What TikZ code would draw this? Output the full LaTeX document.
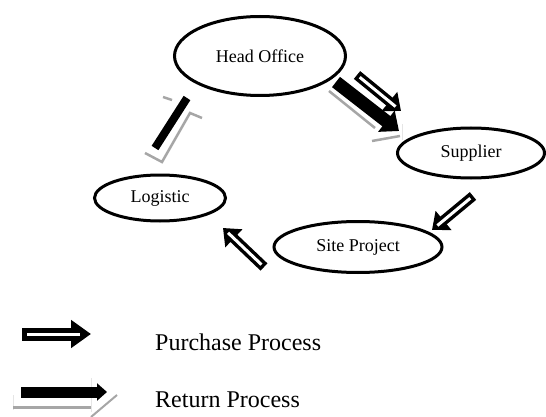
\documentclass[tikz,border=0pt]{standalone}
\usepackage{fontspec}
\setmainfont{Liberation Serif}
\usetikzlibrary{shapes.geometric,arrows.meta,calc}
\tikzset{
  place/.style={ellipse, draw, line width=3pt, inner sep=0pt, font=\fontsize{18}{20}\selectfont},
  purch/.style={line width=10pt, -{Triangle[length=15pt,width=24pt]}},
  purchcore/.style={line width=3pt, white, shorten <=3.5pt, shorten >=7pt},
  ret/.style={line width=13pt, -{Triangle[length=16pt,width=26pt]}},
  shade/.style={line width=2.5pt, black!35},
  faint/.style={line width=1pt, black!10},
  legend/.style={anchor=base west, inner sep=0pt, font=\fontsize{24}{27}\selectfont},
}
\begin{document}
\begin{tikzpicture}[x=1pt,y=-1pt]
\useasboundingbox (0,0) rectangle (546,417);
% places
\node[place, minimum width=171pt, minimum height=79pt] (ho) at (260,56) {Head Office};
\node[place, minimum width=147pt, minimum height=50pt] (sup) at (471,153) {Supplier};
\node[place, minimum width=168pt, minimum height=51pt] (site) at (358,247) {Site Project};
\node[place, minimum width=131pt, minimum height=46pt] (log) at (160,198) {Logistic};
% arrow end points
\coordinate (p1a) at (357,75);  \coordinate (p1b) at (401,111);
\coordinate (r1a) at (336,82);  \coordinate (r1b) at (399,131);
\coordinate (p2a) at (473,196); \coordinate (p2b) at (432,230);
\coordinate (p3a) at (264,267); \coordinate (p3b) at (223,228);
\coordinate (r2a) at (155,148); \coordinate (r2b) at (187,98);
% Head Office -> Supplier (purchase)
\draw[purch] (p1a) -- (p1b);
\draw[purchcore] (p1a) -- (p1b);
% Head Office -> Supplier (return)
\draw[shade] (329,91) -- (375,128);
\draw[shade] (372,141) -- (400,136);
\draw[faint] (402,124) -- (402,140);
\draw[ret] (r1a) -- (r1b);
% Supplier -> Site Project
\draw[purch] (p2a) -- (p2b);
\draw[purchcore] (p2a) -- (p2b);
% Site Project -> Logistic
\draw[purch] (p3a) -- (p3b);
\draw[purchcore] (p3a) -- (p3b);
% Logistic -> Head Office (return)
\draw[shade] (163,97) -- (172,100);
\draw[shade] (145,153) -- (162,162) -- (190,113) -- (202,118);
\draw[line width=8pt] (r2a) -- (r2b);
% legend
\coordinate (lp1) at (22,334); \coordinate (lp2) at (91,334);
\draw[line width=13pt, -{Triangle[length=20pt,width=27pt]}] (lp1) -- (lp2);
\draw[line width=3pt, white, shorten <=5pt, shorten >=11pt] (lp1) -- (lp2);
\node[legend] (lt1) at (155,350) {Purchase Process};
\coordinate (lr1) at (21,392); \coordinate (lr2) at (107,392);
\draw[faint] (91,378) -- (91,412);
\draw[faint] (13,395) -- (13,410);
\draw[line width=3pt, black!35] (13,407) -- (91,407);
\draw[line width=2pt, black!35] (91,417) -- (117,395);
\draw[line width=11pt, -{Triangle[length=10pt,width=17pt]}] (lr1) -- (lr2);
\node[legend] (lt2) at (155,407) {Return Process};
\end{tikzpicture}
\end{document}
